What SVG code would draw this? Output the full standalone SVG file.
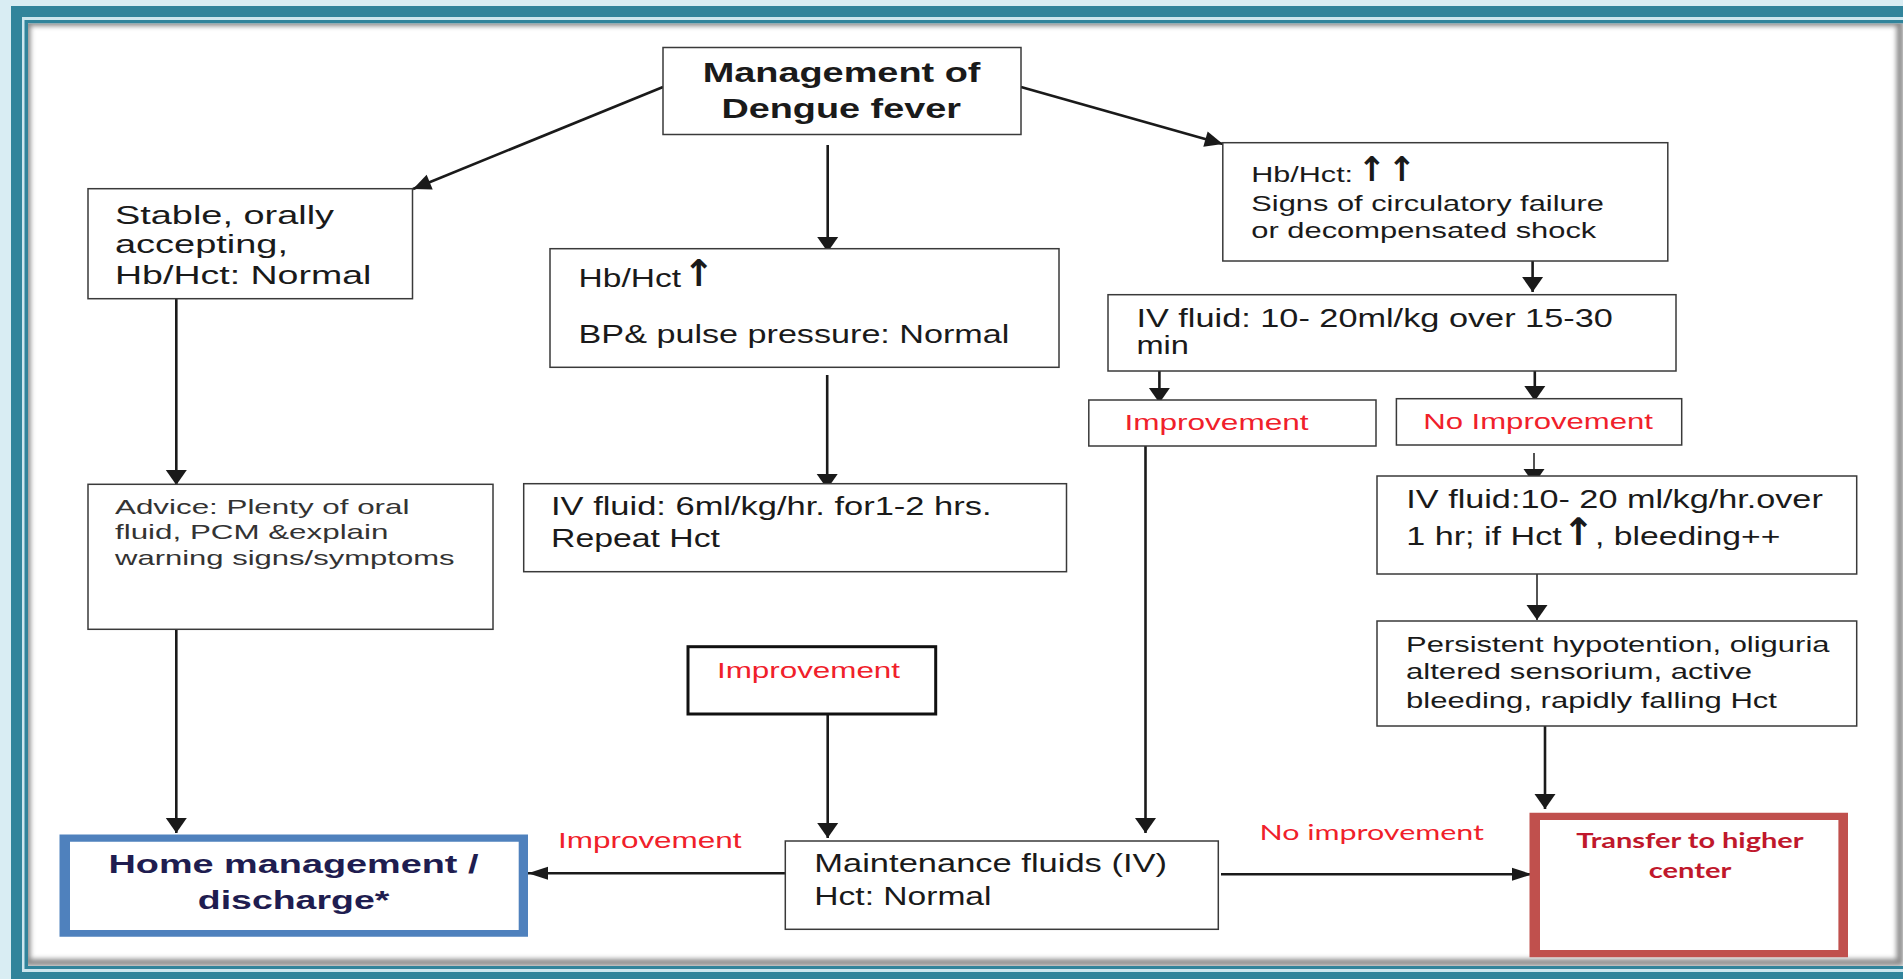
<svg xmlns="http://www.w3.org/2000/svg" width="1903" height="979" viewBox="0 0 1903 979">
<defs>
<style>
.box{fill:#fff;stroke:#3a3a3a;stroke-width:1.5}
.t{font-family:"Liberation Sans",Arial,sans-serif;fill:#1a1a1a}
.b{font-weight:bold}
.red{fill:#f0202a}
.adv{fill:#333}
.cal{font-family:Lato,"Open Sans",sans-serif;font-weight:bold}
.arr{font-family:"DejaVu Sans",sans-serif;font-weight:bold;fill:#1a1a1a}
.ln{stroke:#1a1a1a;stroke-width:2.6;fill:none}
.thin{stroke-width:1.5}
</style>
<marker id="av" markerUnits="userSpaceOnUse" markerWidth="40" markerHeight="40" viewBox="-20 -20 40 40" refX="0" refY="0" orient="auto" overflow="visible"><path d="M0,0 L-15,-10.5 L-15,10.5 Z" fill="#1a1a1a"/></marker>
<marker id="ah" markerUnits="userSpaceOnUse" markerWidth="40" markerHeight="40" viewBox="-20 -20 40 40" refX="0" refY="0" orient="auto" overflow="visible"><path d="M0,0 L-20,-6.5 L-20,6.5 Z" fill="#1a1a1a"/></marker>
<marker id="ad" markerUnits="userSpaceOnUse" markerWidth="40" markerHeight="40" viewBox="-20 -20 40 40" refX="0" refY="0" orient="auto" overflow="visible"><path d="M0,0 L-18,-8 L-18,8 Z" fill="#1a1a1a"/></marker>
<filter id="blur" x="-0.05" y="-0.05" width="1.1" height="1.1"><feGaussianBlur stdDeviation="2.5"/></filter>
<clipPath id="clipW"><rect x="28" y="23.5" width="1875" height="942.5"/></clipPath>
</defs>

<g id="frame">
<rect width="1903" height="979" fill="#d9edf3"/>
<rect x="11" y="6" width="1900" height="980" fill="#31849b"/>
<rect x="22" y="17" width="1890" height="955" fill="#cde6ee"/>
<rect x="24.5" y="20" width="1890" height="949" fill="#31849b"/>
<rect x="28" y="23.5" width="1875" height="942.5" fill="#fff"/>
<g clip-path="url(#clipW)"><rect x="27" y="22.5" width="1873" height="940" fill="none" stroke="#8a8a8a" stroke-width="7" filter="url(#blur)"/></g>
</g>

<g id="connectors">
<path class="ln" d="M663,87 L413,189" marker-end="url(#ad)"/>
<path class="ln" d="M1021,87 L1222.8,144" marker-end="url(#ad)"/>
<path class="ln" d="M827.7,145 V252" marker-end="url(#av)"/>
<path class="ln" d="M176.3,299 V485" marker-end="url(#av)"/>
<path class="ln" d="M827.2,375 V489" marker-end="url(#av)"/>
<path class="ln" d="M1532.6,261 V292" marker-end="url(#av)"/>
<path class="ln" d="M1159.4,371 V403" marker-end="url(#av)"/>
<path class="ln" d="M1534.8,371 V401" marker-end="url(#av)"/>
<path class="ln thin" d="M1534,453 V484" marker-end="url(#av)"/>
<path class="ln thin" d="M1537,574 V620" marker-end="url(#av)"/>
<path class="ln" d="M1545,726 V809" marker-end="url(#av)"/>
<path class="ln" d="M176.3,629 V833" marker-end="url(#av)"/>
<path class="ln" d="M827.7,714 V838" marker-end="url(#av)"/>
<path class="ln" d="M1145.5,443 V833" marker-end="url(#av)"/>
<path class="ln" d="M785,873.3 H528" marker-end="url(#ah)"/>
<path class="ln" d="M1221,874.3 H1532" marker-end="url(#ah)"/>
</g>

<g id="n-management">
<rect class="box" x="663" y="47.5" width="358" height="87"/>
<text class="t b" x="702.7" y="82" font-size="28" textLength="277.7" lengthAdjust="spacingAndGlyphs">Management of</text>
<text class="t b" x="721.4" y="118" font-size="28" textLength="239.6" lengthAdjust="spacingAndGlyphs">Dengue fever</text>
</g>

<g id="n-stable">
<rect class="box" x="88" y="188.7" width="324.5" height="110"/>
<text class="t" x="115" y="224" font-size="26" textLength="219" lengthAdjust="spacingAndGlyphs">Stable, orally</text>
<text class="t" x="115" y="253" font-size="26" textLength="173" lengthAdjust="spacingAndGlyphs">accepting,</text>
<text class="t" x="115" y="284" font-size="26" textLength="256.4" lengthAdjust="spacingAndGlyphs">Hb/Hct: Normal</text>
</g>

<g id="n-hct-up">
<rect class="box" x="550" y="248.7" width="509" height="118.6"/>
<text class="t" x="578.6" y="286.7" font-size="26" textLength="102.4" lengthAdjust="spacingAndGlyphs">Hb/Hct</text>
<text class="arr" x="698.5" y="286" font-size="37" text-anchor="middle">↑</text>
<text class="t" x="578.6" y="342.7" font-size="26" textLength="430.8" lengthAdjust="spacingAndGlyphs">BP&amp; pulse pressure: Normal</text>
</g>

<g id="n-hct-upup">
<rect class="box" x="1222.8" y="142.7" width="445" height="118.3"/>
<text class="t" x="1251.3" y="181.7" font-size="22.5" textLength="101.8" lengthAdjust="spacingAndGlyphs">Hb/Hct:</text>
<text class="arr" x="1372" y="181" font-size="34" text-anchor="middle">↑</text>
<text class="arr" x="1402" y="181" font-size="34" text-anchor="middle">↑</text>
<text class="t" x="1251.3" y="210.7" font-size="22.5" textLength="352.7" lengthAdjust="spacingAndGlyphs">Signs of circulatory failure</text>
<text class="t" x="1251.3" y="238.3" font-size="22.5" textLength="345" lengthAdjust="spacingAndGlyphs">or decompensated shock</text>
</g>

<g id="n-ivfluid-bolus">
<rect class="box" x="1108" y="294.7" width="568" height="76.3"/>
<text class="t" x="1136.4" y="327" font-size="25" textLength="476.4" lengthAdjust="spacingAndGlyphs">IV fluid: 10- 20ml/kg over 15-30</text>
<text class="t" x="1136.4" y="354" font-size="25" textLength="52.5" lengthAdjust="spacingAndGlyphs">min</text>
</g>

<g id="n-improvement-1">
<rect class="box" x="1088.8" y="400" width="287.2" height="46"/>
<text class="t red" x="1124.5" y="430" font-size="22" textLength="184" lengthAdjust="spacingAndGlyphs">Improvement</text>
</g>

<g id="n-no-improvement">
<rect class="box" x="1396.4" y="398.7" width="285.3" height="46.3"/>
<text class="t red" x="1423.2" y="429.3" font-size="22" textLength="229.8" lengthAdjust="spacingAndGlyphs">No Improvement</text>
</g>

<g id="n-ivfluid-hr">
<rect class="box" x="1377" y="476" width="479.7" height="98"/>
<text class="t" x="1406.3" y="508.3" font-size="26" textLength="416.5" lengthAdjust="spacingAndGlyphs">IV fluid:10- 20 ml/kg/hr.over</text>
<text class="t" x="1406.3" y="545" font-size="26" textLength="155.4" lengthAdjust="spacingAndGlyphs">1 hr; if Hct</text>
<text class="arr" x="1578.5" y="545" font-size="38" text-anchor="middle">↑</text>
<text class="t" x="1595" y="545" font-size="26" textLength="185.4" lengthAdjust="spacingAndGlyphs">, bleeding++</text>
</g>

<g id="n-persistent">
<rect class="box" x="1377" y="621" width="479.7" height="105"/>
<text class="t" x="1406" y="651.7" font-size="22" textLength="423.5" lengthAdjust="spacingAndGlyphs">Persistent hypotention, oliguria</text>
<text class="t" x="1406" y="679.3" font-size="22" textLength="346" lengthAdjust="spacingAndGlyphs">altered sensorium, active</text>
<text class="t" x="1406" y="708.3" font-size="22" textLength="371" lengthAdjust="spacingAndGlyphs">bleeding, rapidly falling Hct</text>
</g>

<g id="n-advice">
<rect class="box" x="88" y="484.3" width="405" height="145"/>
<text class="t adv" x="115" y="514" font-size="21" textLength="294.4" lengthAdjust="spacingAndGlyphs">Advice: Plenty of oral</text>
<text class="t adv" x="115" y="539.3" font-size="21" textLength="273.4" lengthAdjust="spacingAndGlyphs">fluid, PCM &amp;explain</text>
<text class="t adv" x="115" y="565" font-size="21" textLength="339.5" lengthAdjust="spacingAndGlyphs">warning signs/symptoms</text>
</g>

<g id="n-ivfluid-6ml">
<rect class="box" x="523.7" y="483.7" width="542.8" height="88"/>
<text class="t" x="551" y="515" font-size="25" textLength="440.5" lengthAdjust="spacingAndGlyphs">IV fluid: 6ml/kg/hr. for1-2 hrs.</text>
<text class="t" x="551" y="547.3" font-size="25" textLength="169" lengthAdjust="spacingAndGlyphs">Repeat Hct</text>
</g>

<g id="n-improvement-2">
<rect x="688" y="646.7" width="247.7" height="67.3" fill="#fff" stroke="#111" stroke-width="3"/>
<text class="t red" x="717" y="677.7" font-size="21.5" textLength="183" lengthAdjust="spacingAndGlyphs">Improvement</text>
</g>

<g id="n-maintenance">
<rect class="box" x="785.3" y="841" width="433" height="88.3"/>
<text class="t" x="814.3" y="871.7" font-size="26" textLength="352.7" lengthAdjust="spacingAndGlyphs">Maintenance fluids (IV)</text>
<text class="t" x="814.3" y="905" font-size="26" textLength="177.2" lengthAdjust="spacingAndGlyphs">Hct: Normal</text>
</g>

<g id="n-home">
<path d="M59.5,834.5 H528 V936.7 H59.5 Z M70,841.7 V930 H518.7 V841.7 Z" fill="#4f81bd" fill-rule="evenodd"/>
<text class="t b" x="108.5" y="873.3" font-size="26" style="fill:#1f1d50" textLength="370" lengthAdjust="spacingAndGlyphs">Home management /</text>
<text class="t b" x="197.8" y="909.3" font-size="26" style="fill:#1f1d50" textLength="191.5" lengthAdjust="spacingAndGlyphs">discharge*</text>
</g>

<g id="n-transfer">
<path d="M1529.5,812.7 H1848 V957.3 H1529.5 Z M1540,820 V950 H1838.4 V820 Z" fill="#c0504d" fill-rule="evenodd"/>
<text class="cal" x="1576.3" y="848.3" font-size="21" fill="#c0182c" textLength="227.3" lengthAdjust="spacingAndGlyphs">Transfer to higher</text>
<text class="cal" x="1648.7" y="878.3" font-size="21" fill="#c0182c" textLength="82.6" lengthAdjust="spacingAndGlyphs">center</text>
</g>

<g id="labels">
<text class="t red" x="558" y="848.3" font-size="21.5" textLength="183.5" lengthAdjust="spacingAndGlyphs">Improvement</text>
<text x="1259.4" y="840" font-family="Lato, 'Open Sans', sans-serif" font-size="21.5" fill="#f0202a" textLength="224.6" lengthAdjust="spacingAndGlyphs">No improvement</text>
</g>
</svg>
